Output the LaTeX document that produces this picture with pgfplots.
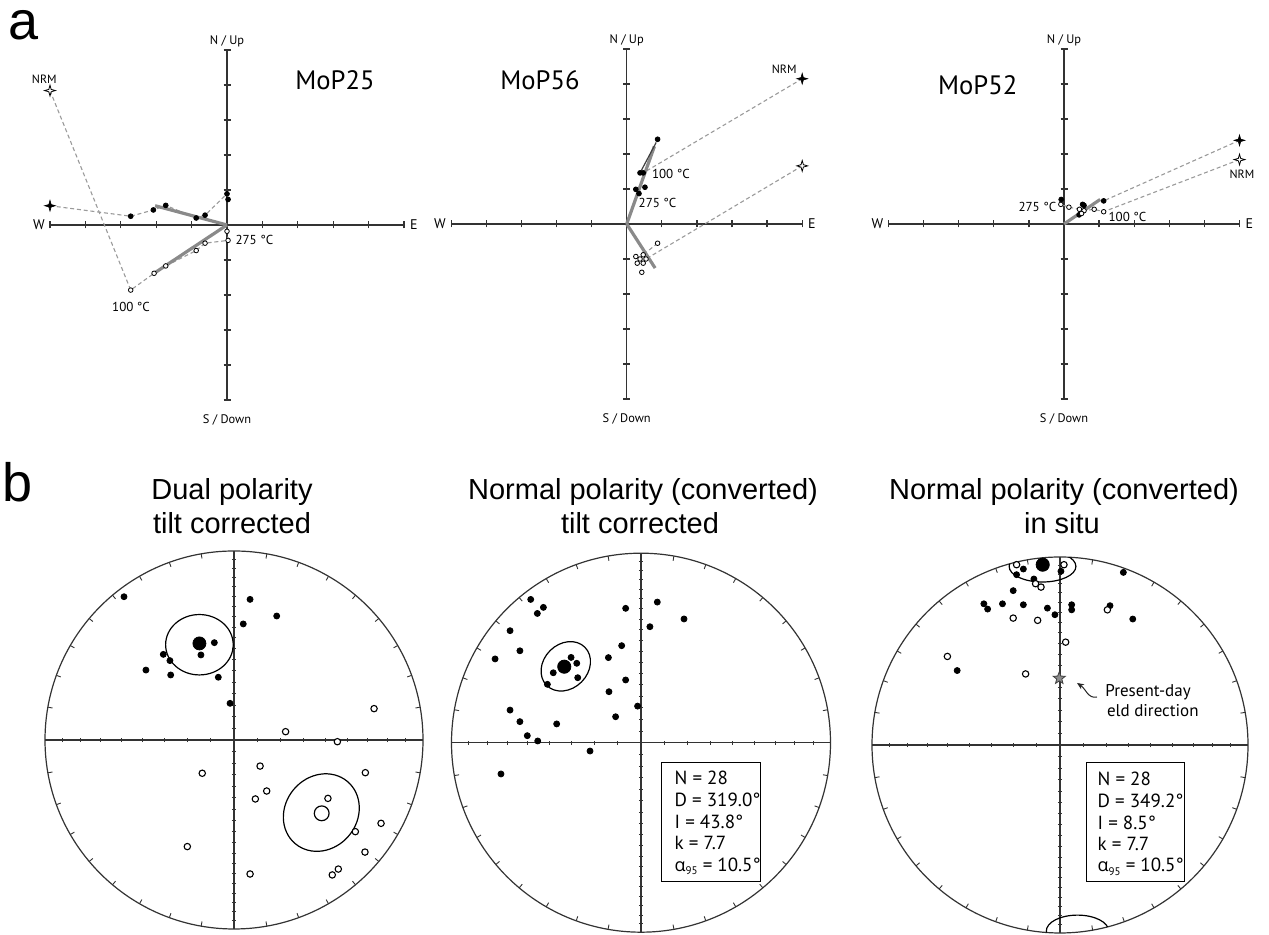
\documentclass[border=0pt]{standalone}
\usepackage{fontspec}
\setmainfont{PT Sans}
\newfontfamily\arialf{Liberation Sans}
\newfontfamily\greekf{Open Sans}
\usepackage{pgfplots}
\pgfplotsset{compat=1.18}
\usetikzlibrary{arrows.meta}
\newcommand\fs[1]{\fontsize{#1}{#1}\selectfont}
\definecolor{axc}{HTML}{333333}
\definecolor{dashc}{HTML}{9A9A9A}
\definecolor{pcac}{HTML}{8A8A8A}

\pgfdeclareplotmark{fourstar}{%
  \pgfpathmoveto{\pgfqpoint{0pt}{\pgfplotmarksize}}%
  \pgfpathlineto{\pgfqpoint{0.22\pgfplotmarksize}{0.22\pgfplotmarksize}}%
  \pgfpathlineto{\pgfqpoint{\pgfplotmarksize}{0pt}}%
  \pgfpathlineto{\pgfqpoint{0.22\pgfplotmarksize}{-0.22\pgfplotmarksize}}%
  \pgfpathlineto{\pgfqpoint{0pt}{-\pgfplotmarksize}}%
  \pgfpathlineto{\pgfqpoint{-0.22\pgfplotmarksize}{-0.22\pgfplotmarksize}}%
  \pgfpathlineto{\pgfqpoint{-\pgfplotmarksize}{0pt}}%
  \pgfpathlineto{\pgfqpoint{-0.22\pgfplotmarksize}{0.22\pgfplotmarksize}}%
  \pgfpathclose
  \pgfusepathqfillstroke}
\pgfdeclareplotmark{fivestar}{%
  \pgfpathmoveto{\pgfpointpolar{90}{\pgfplotmarksize}}%
  \pgfpathlineto{\pgfpointpolar{126}{0.42*\pgfplotmarksize}}%
  \pgfpathlineto{\pgfpointpolar{162}{\pgfplotmarksize}}%
  \pgfpathlineto{\pgfpointpolar{198}{0.42*\pgfplotmarksize}}%
  \pgfpathlineto{\pgfpointpolar{234}{\pgfplotmarksize}}%
  \pgfpathlineto{\pgfpointpolar{270}{0.42*\pgfplotmarksize}}%
  \pgfpathlineto{\pgfpointpolar{306}{\pgfplotmarksize}}%
  \pgfpathlineto{\pgfpointpolar{342}{0.42*\pgfplotmarksize}}%
  \pgfpathlineto{\pgfpointpolar{18}{\pgfplotmarksize}}%
  \pgfpathlineto{\pgfpointpolar{54}{0.42*\pgfplotmarksize}}%
  \pgfpathclose
  \pgfusepathqfillstroke}

\pgfplotsset{
  zij/.style={
    scale only axis, width=175.5pt, height=175pt, anchor=center,
    xmin=-5, xmax=5, ymin=-5, ymax=5,
    axis lines=middle,
    axis line style={-, draw=axc, line width=0.65pt},
    inner axis line style={-},
    xtick={-5,-4,...,5}, ytick={-5,-4,...,5},
    xticklabels={,,}, yticklabels={,,},
    tick align=center, major tick length=3.5pt,
    tick style={draw=axc, line width=0.65pt},
    clip=false,
  },
  stnet/.style={
    scale only axis, anchor=center, hide axis,
    xmin=-1, xmax=1, ymin=-1, ymax=1, clip=false,
  },
  dsh/.style={dashc, dash pattern=on 2pt off 1.4pt, line width=0.55pt},
  pca/.style={pcac, line width=1.6pt},
  fdot/.style={only marks, mark=*, mark size=1.2pt, mark options={fill=black, draw=black}},
  odot/.style={only marks, mark=*, mark size=1.15pt, mark options={fill=white, draw=black, line width=0.4pt}},
  fstar/.style={only marks, mark=fourstar, mark size=2.7pt, mark options={fill=black, draw=black, line width=0.3pt}},
  ostar/.style={only marks, mark=fourstar, mark size=2.7pt, mark options={fill=white, draw=black, line width=0.4pt}},
  sf/.style={only marks, mark=*, mark size=1.5pt, mark options={fill=black, draw=black}},
  so/.style={only marks, mark=*, mark size=1.6pt, mark options={fill=white, draw=black, line width=0.55pt}},
}

\newcommand\stereo[3]{%
\begin{scope}[shift={(#1pt,#2pt)}, x=#3pt, y=#3pt]
  \draw[axc, line width=0.6pt] (0,0) circle (1);
  \draw[axc, line width=0.6pt] (-1,0) -- (1,0) (0,-1) -- (0,1);
  \foreach \a in {0,10,...,350} \draw[axc, line width=0.45pt] (\a:1) -- (\a:0.975);
  \foreach \i in {10,20,...,80} {\pgfmathsetmacro\r{sqrt(2)*sin((90-\i)/2)}
    \draw[axc, line width=0.45pt] (\r,-0.011) -- (\r,0.011) (-\r,-0.011) -- (-\r,0.011);}
  \foreach \i in {5,10,...,85} {\pgfmathsetmacro\r{sqrt(2)*sin((90-\i)/2)}
    \draw[axc, line width=0.45pt] (-0.011,\r) -- (0.011,\r) (-0.011,-\r) -- (0.011,-\r);}
\end{scope}}

\newcommand\zlabels{%
  \node[anchor=east, inner sep=0, xshift=-2.5pt, font=\fs{7}] at (axis cs:-5,0) {W};
  \node[anchor=west, inner sep=0, xshift=2.8pt, font=\fs{7}] at (axis cs:5,0) {E};
  \node[anchor=south, inner sep=0, yshift=1.5pt, font=\fs{6.2}] at (axis cs:0,5) {N / Up};
  \node[anchor=base, inner sep=0, yshift=-11.7pt, font=\fs{6.2}] at (axis cs:0,-5) {S / Down};
}
\newcommand\alphaline{{\greekf\fs{9}α}\raisebox{-1.6pt}{\fs{5.5}95} = 10.5°}

\begin{document}
\begin{tikzpicture}
\path[use as bounding box] (0,0) rectangle (634.5pt,467.5pt);

% panel letters
\node[anchor=base west, inner sep=0, font=\arialf\fs{27}] at (4pt,447.6pt) {a};
\node[anchor=base west, inner sep=0, font=\arialf\fs{27}] at (1pt,216.7pt) {b};

% ---------- MoP25 ----------
\begin{axis}[zij, width=177pt, at={(113.5pt,355pt)}]
\addplot[dsh] coordinates {(-5.0,0.55) (-2.72,0.25) (-2.08,0.43) (-1.73,0.56) (-0.87,0.20) (-0.62,0.28) (0.0,0.89) (0.03,0.73)};
\addplot[dsh] coordinates {(-5.0,3.84) (-2.72,-1.86) (-2.06,-1.38) (-1.73,-1.17) (-0.87,-0.73) (-0.62,-0.52) (0.03,-0.44) (0.0,-0.18)};
\addplot[pca] coordinates {(-2.03,0.55) (0,0)};
\addplot[pca] coordinates {(-2.06,-1.38) (0,0)};
\addplot[fdot] coordinates {(-2.72,0.25) (-2.08,0.43) (-1.73,0.56) (-0.87,0.20) (-0.62,0.28) (0.0,0.89) (0.03,0.73)};
\addplot[odot] coordinates {(-2.72,-1.86) (-2.06,-1.38) (-1.73,-1.17) (-0.87,-0.73) (-0.62,-0.52) (0.03,-0.44) (0.0,-0.18)};
\addplot[fstar] coordinates {(-5.0,0.55)};
\addplot[ostar] coordinates {(-5.0,3.84)};
\node[font=\fs{6}, inner sep=0] at (axis cs:-5.16,4.17) {NRM};
\node[font=\fs{6.5}, inner sep=0] at (axis cs:-2.71,-2.34) {100 °C};
\node[font=\fs{6.5}, inner sep=0, anchor=west] at (axis cs:0.23,-0.42) {275 °C};
\zlabels
\end{axis}
\node[anchor=base west, inner sep=0, font=\fs{13.3}] at (147.5pt,422.85pt) {MoP25};

% ---------- MoP56 ----------
\begin{axis}[zij, at={(313.35pt,355.5pt)}]
\addplot[dsh] coordinates {(5.0,4.15) (0.47,1.46)};
\addplot[dsh] coordinates {(5.0,1.66) (0.55,-1.0)};
\addplot[dsh] coordinates {(0.88,-0.55) (0.47,-0.88)};
\addplot[pca] coordinates {(0,0) (0.79,2.22)};
\addplot[pca] coordinates {(0,0) (0.81,-1.26)};
\addplot[black!75, line width=0.6pt] coordinates {(0.38,1.46) (0.84,2.33)};
\addplot[fdot] coordinates {(0.88,2.42) (0.38,1.46) (0.47,1.46) (0.26,0.99) (0.35,0.87) (0.52,1.05)};
\addplot[odot] coordinates {(0.88,-0.55) (0.26,-0.93) (0.47,-0.88) (0.38,-1.0) (0.55,-1.0) (0.30,-1.12) (0.47,-1.12) (0.43,-1.38)};
\addplot[fstar] coordinates {(5.0,4.15)};
\addplot[ostar] coordinates {(5.0,1.66)};
\node[font=\fs{6}, inner sep=0, anchor=south east, xshift=-2.6pt, yshift=2.5pt] at (axis cs:5.0,4.15) {NRM};
\node[font=\fs{6.5}, inner sep=0, anchor=west] at (axis cs:0.71,1.44) {100 °C};
\node[font=\fs{6.5}, inner sep=0, anchor=west] at (axis cs:0.33,0.59) {275 °C};
\zlabels
\end{axis}
\node[anchor=base west, inner sep=0, font=\fs{13.3}] at (250pt,422.5pt) {MoP56};

% ---------- MoP52 ----------
\begin{axis}[zij, at={(532pt,355.5pt)}]
\addplot[dsh] coordinates {(5.0,2.39) (1.13,0.66)};
\addplot[dsh] coordinates {(5.0,1.84) (1.13,0.35) (0.86,0.42) (0.57,0.38) (0.44,0.42) (0.14,0.48) (-0.09,0.56)};
\addplot[pca] coordinates {(0,0) (1.03,0.70)};
\addplot[fdot] coordinates {(-0.08,0.70) (0.53,0.56) (0.57,0.53) (1.13,0.66) (0.43,0.26) (0.48,0.32)};
\addplot[odot] coordinates {(-0.09,0.56) (0.14,0.48) (0.44,0.42) (0.57,0.38) (0.86,0.42) (1.13,0.35) (0.5,0.30)};
\addplot[fstar] coordinates {(5.0,2.39)};
\addplot[ostar] coordinates {(5.0,1.84)};
\node[font=\fs{6}, inner sep=0] at (axis cs:5.07,1.43) {NRM};
\node[font=\fs{6.5}, inner sep=0, anchor=west] at (axis cs:1.26,0.19) {100 °C};
\node[font=\fs{6.5}, inner sep=0, anchor=east] at (axis cs:-0.21,0.49) {275 °C};
\zlabels
\end{axis}
\node[anchor=base west, inner sep=0, font=\fs{13.3}] at (468.85pt,420pt) {MoP52};

% ---------- stereonet titles ----------
\node[anchor=base, inner sep=0, font=\arialf\fs{14.5}] at (116pt,217.85pt) {Dual polarity};
\node[anchor=base, inner sep=0, font=\arialf\fs{14.5}] at (116pt,200.85pt) {tilt corrected};
\node[anchor=base, inner sep=0, font=\arialf\fs{14.5}] at (321.5pt,217.85pt) {Normal polarity (converted)};
\node[anchor=base, inner sep=0, font=\arialf\fs{14.5}] at (320pt,200.85pt) {tilt corrected};
\node[anchor=base, inner sep=0, font=\arialf\fs{14.5}] at (532pt,217.85pt) {Normal polarity (converted)};
\node[anchor=base, inner sep=0, font=\arialf\fs{14.5}] at (531pt,200.85pt) {in situ};

% ---------- stereonet frames ----------
\stereo{117}{97.5}{94.5}
\stereo{320.5}{96.15}{94.75}
\stereo{530}{95}{94}

% ---------- b1 ----------
\begin{axis}[stnet, width=189pt, height=189pt, at={(117pt,97.5pt)}]
\draw[black, line width=0.6pt] (axis cs:-0.183,0.504) ellipse [x radius=16.9pt, y radius=15.1pt];
\draw[black, line width=0.6pt, rotate around={50:(axis cs:0.462,-0.384)}] (axis cs:0.462,-0.384) ellipse [x radius=20.3pt, y radius=18pt];
\addplot[sf] coordinates {(-0.582,0.758) (0.085,0.744) (0.226,0.656) (0.049,0.614) (-0.104,0.515) (-0.175,0.450) (-0.374,0.453) (-0.339,0.420) (-0.466,0.370) (-0.335,0.344) (-0.083,0.332) (-0.021,0.194)};
\addplot[so] coordinates {(0.741,0.166) (0.273,0.044) (0.547,-0.009) (0.138,-0.138) (0.695,-0.173) (-0.168,-0.176) (0.173,-0.270) (0.113,-0.312) (0.497,-0.309) (0.778,-0.441) (0.642,-0.485) (0.693,-0.593) (-0.247,-0.564) (0.085,-0.709) (0.552,-0.683) (0.520,-0.714)};
\addplot[only marks, mark=*, mark size=3.25pt, mark options={fill=black, draw=black}] coordinates {(-0.183,0.511)};
\addplot[only marks, mark=*, mark size=3.7pt, mark options={fill=white, draw=black, line width=0.6pt}] coordinates {(0.464,-0.388)};
\end{axis}

% ---------- b2 ----------
\begin{axis}[stnet, width=189.5pt, height=189.5pt, at={(320.5pt,96.15pt)}]
\draw[black, line width=0.6pt, rotate around={45:(axis cs:-0.397,0.403)}] (axis cs:-0.397,0.403) ellipse [x radius=13.5pt, y radius=11.1pt];
\addplot[sf] coordinates {(-0.582,0.756) (-0.515,0.714) (-0.547,0.682) (-0.081,0.709) (0.086,0.742) (0.227,0.653) (0.047,0.612) (-0.691,0.591) (-0.639,0.485) (-0.770,0.442) (-0.102,0.512) (-0.172,0.449) (-0.081,0.331) (-0.369,0.450) (-0.339,0.419) (-0.463,0.369) (-0.334,0.343) (-0.494,0.308) (-0.169,0.269) (-0.018,0.193) (-0.691,0.172) (-0.134,0.137) (-0.639,0.111) (-0.445,0.099) (-0.600,0.037) (-0.545,0.009) (-0.269,-0.044) (-0.739,-0.165)};
\addplot[only marks, mark=*, mark size=3.3pt, mark options={fill=black, draw=black}] coordinates {(-0.405,0.401)};
\end{axis}
\draw[black, line width=0.5pt] (330.85pt,26.65pt) rectangle (380.35pt,86.15pt);
\node[anchor=base west, inner sep=0, font=\fs{9.5}] at (337.15pt,75pt) {N = 28};
\node[anchor=base west, inner sep=0, font=\fs{9.5}] at (337.15pt,64.15pt) {D = 319.0°};
\node[anchor=base west, inner sep=0, font=\fs{9.5}] at (337.15pt,53.35pt) {I = 43.8°};
\node[anchor=base west, inner sep=0, font=\fs{9.5}] at (337.15pt,42.5pt) {k = 7.7};
\node[anchor=base west, inner sep=0, font=\fs{9.5}] at (337.15pt,31.65pt) {\alphaline};

% ---------- b3 ----------
\begin{axis}[stnet, width=188pt, height=188pt, at={(530pt,95pt)}]
\begin{scope}
\clip (axis cs:0,0) circle [radius=94pt];
\draw[black, line width=0.6pt] (axis cs:-0.093,0.95) ellipse [x radius=16.7pt, y radius=7.8pt];
\draw[black, line width=0.6pt] (axis cs:0.093,-0.99) ellipse [x radius=15.6pt, y radius=8pt];
\end{scope}
\addplot[sf] coordinates {(-0.195,0.936) (-0.231,0.906) (-0.139,0.883) (0.005,0.924) (0.337,0.918) (-0.249,0.821) (-0.405,0.751) (-0.385,0.723) (-0.306,0.751) (-0.195,0.746) (-0.067,0.728) (-0.027,0.693) (0.062,0.746) (0.062,0.719) (0.266,0.741) (0.387,0.670) (-0.547,0.396)};
\addplot[so] coordinates {(-0.231,0.959) (0.021,0.959) (-0.130,0.858) (-0.101,0.840) (-0.249,0.675) (-0.119,0.663) (0.252,0.719) (0.030,0.547) (-0.599,0.471) (-0.183,0.378)};
\addplot[only marks, mark=*, mark size=3.3pt, mark options={fill=black, draw=black}] coordinates {(-0.092,0.959)};
\addplot[only marks, mark=fivestar, mark size=3.2pt, mark options={fill=black!45, draw=black!75, line width=0.4pt}] coordinates {(-0.004,0.355)};
\end{axis}
\draw[-{Stealth[length=3.5pt,width=3pt]}, line width=0.5pt, black!85] (548.5pt,119pt) .. controls (544pt,118pt) and (543pt,123pt) .. (538.5pt,126pt);
\node[anchor=base west, inner sep=0, font=\fs{8.5}] at (552.5pt,119.15pt) {Present-day};
\node[anchor=base west, inner sep=0, font=\fs{8.5}] at (553.3pt,109.15pt) {eld direction};
\draw[black, line width=0.5pt] (543pt,26.65pt) rectangle (592pt,86.15pt);
\node[anchor=base west, inner sep=0, font=\fs{9.5}] at (548.65pt,74.5pt) {N = 28};
\node[anchor=base west, inner sep=0, font=\fs{9.5}] at (548.65pt,63.65pt) {D = 349.2°};
\node[anchor=base west, inner sep=0, font=\fs{9.5}] at (548.65pt,52.8pt) {I = 8.5°};
\node[anchor=base west, inner sep=0, font=\fs{9.5}] at (548.65pt,42.15pt) {k = 7.7};
\node[anchor=base west, inner sep=0, font=\fs{9.5}] at (548.65pt,31.5pt) {\alphaline};
\end{tikzpicture}
\end{document}
